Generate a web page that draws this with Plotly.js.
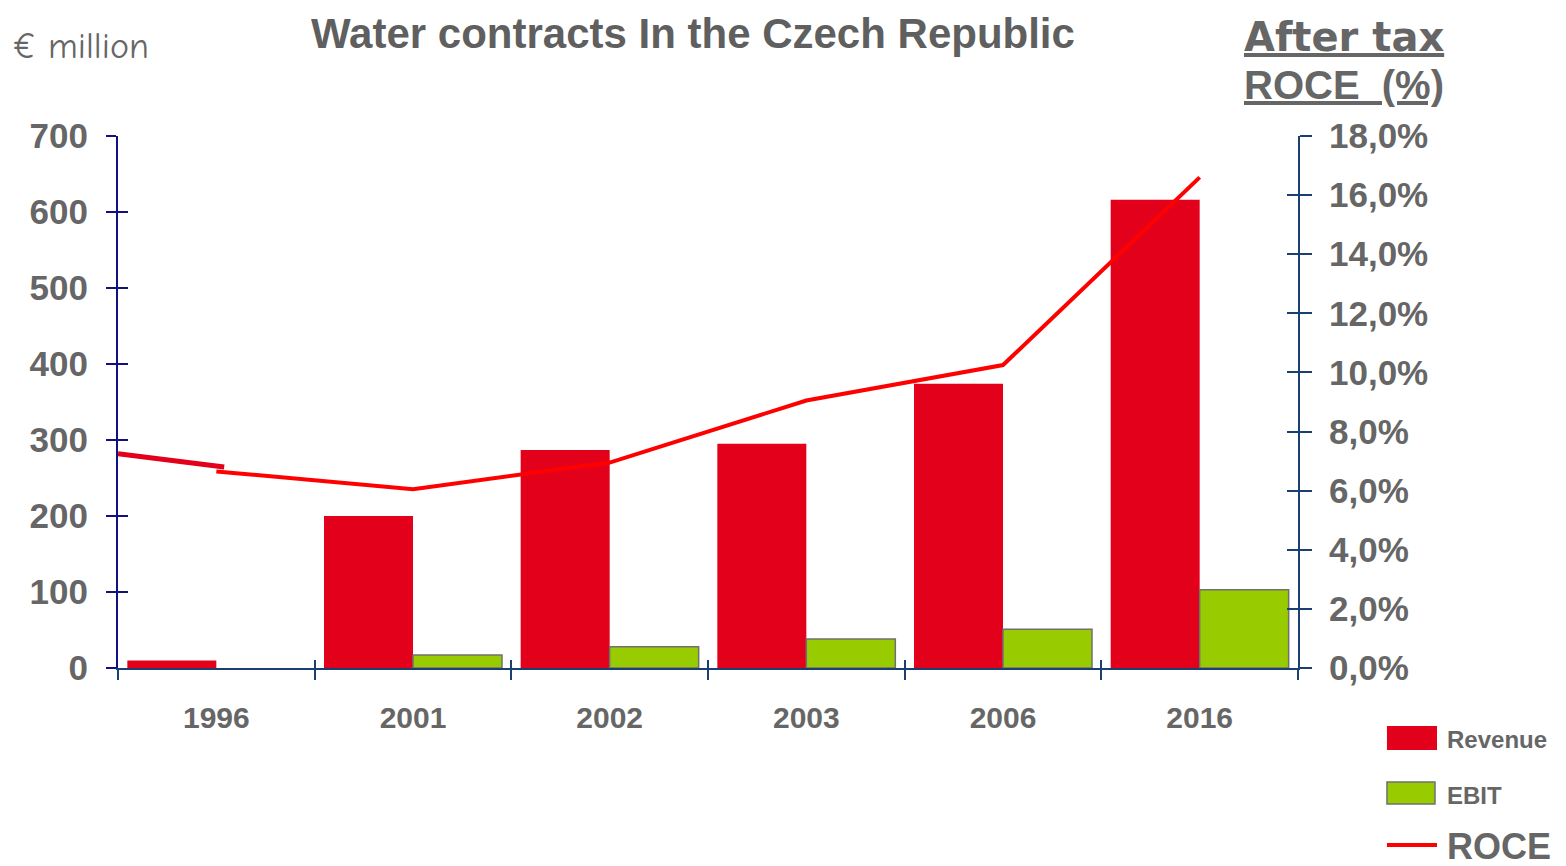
<!DOCTYPE html>
<html>
<head>
<meta charset="utf-8">
<script src="https://cdn.plot.ly/plotly-3.0.1.min.js"></script>
<style>
  html, body { margin: 0; padding: 0; background: #fff; }
  #plot { width: 1566px; height: 866px; }
</style>
</head>
<body>
<div id="plot"></div>
<script>
  // Data
  var years = ['1996', '2001', '2002', '2003', '2006', '2016'];
  var revenue = [10, 200, 287, 295, 374, 616];      // € million
  var ebit = [null, 17, 28, 38, 51, 103];           // € million
  var roce = [6.65, 6.05, 6.95, 9.05, 10.25, 16.6]; // after tax ROCE, %

  // short lead-in of the ROCE line, from the start of the axis up to 1996
  var roceLeadX = [-0.5, 0.04];
  var roceLeadY = [7.25, 6.8];

  var leftTicks = [0, 100, 200, 300, 400, 500, 600, 700];
  var rightTicks = [0, 2, 4, 6, 8, 10, 12, 14, 16, 18];
  var rightLabels = rightTicks.map(v => v.toFixed(1).replace('.', ',') + '%');

  var grey = '#666666';
  var navy = '#10107e';
  var blue = '#1b3f70';
  var tickFont = {family: 'Liberation Sans, Arial, sans-serif', size: 35, color: grey, weight: 'bold'};

  // Trace for revenue bars
  var trRevenue = {
    x: years,
    y: revenue,
    name: 'Revenue',
    type: 'bar',
    marker: {color: '#e2001a', line: {width: 0}},
    hoverinfo: 'skip'
  };
  // Trace for EBIT bars
  var trEbit = {
    x: years,
    y: ebit,
    name: 'EBIT',
    type: 'bar',
    marker: {color: '#99cc00', line: {color: '#707070', width: 1.5}},
    hoverinfo: 'skip'
  };
  // ROCE line on the right axis
  var trRoce = {
    x: years,
    y: roce,
    name: 'ROCE',
    type: 'scatter',
    mode: 'lines',
    yaxis: 'y2',
    line: {color: '#ff0000', width: 4},
    hoverinfo: 'skip'
  };
  var trRoceLead = {
    x: roceLeadX,
    y: roceLeadY,
    type: 'scatter',
    mode: 'lines',
    xaxis: 'x2',
    yaxis: 'y4',
    line: {color: '#e2001a', width: 5},
    hoverinfo: 'skip'
  };
  // empty trace so the inner-tick axis on the left gets drawn
  var trLeftTicks = {x: [], y: [], type: 'scatter', xaxis: 'x', yaxis: 'y3', hoverinfo: 'skip'};

  var data = [trRevenue, trEbit, trRoce, trRoceLead, trLeftTicks];

  // legend drawn by hand, bottom right
  var legendShapes = [
    {type: 'rect', xref: 'paper', yref: 'paper', x0: 1.0754, x1: 1.1178, y0: -0.109, y1: -0.154,
     fillcolor: '#e2001a', line: {width: 0}},
    {type: 'rect', xref: 'paper', yref: 'paper', x0: 1.0754, x1: 1.1161, y0: -0.2143, y1: -0.2556,
     fillcolor: '#99cc00', line: {color: '#707070', width: 1.5}},
    {type: 'line', xref: 'paper', yref: 'paper', x0: 1.0754, x1: 1.1178, y0: -0.3327, y1: -0.3327,
     line: {color: '#ff0000', width: 4}}
  ];

  var legendText = [
    {text: '<b>Revenue</b>', x: 1.1246, y: -0.1353, size: 24},
    {text: '<b>EBIT</b>', x: 1.1246, y: -0.2406, size: 24},
    {text: '<b>ROCE</b>', x: 1.1246, y: -0.3346, size: 36}
  ].map(t => ({
    text: t.text, x: t.x, y: t.y, xref: 'paper', yref: 'paper',
    xanchor: 'left', yanchor: 'middle', showarrow: false,
    font: {family: 'Liberation Sans, Arial, sans-serif', size: t.size, color: grey}
  }));

  var layout = {
    width: 1566,
    height: 866,
    paper_bgcolor: '#ffffff',
    plot_bgcolor: '#ffffff',
    margin: {l: 118, r: 268, t: 136, b: 198},
    showlegend: false,
    barmode: 'group',
    bargap: 0.095,
    bargroupgap: 0,
    title: {
      text: '<b>Water contracts In the Czech Republic</b>',
      x: 0.4425, xanchor: 'center', xref: 'container',
      y: 0.962, yanchor: 'middle', yref: 'container',
      font: {family: 'Liberation Sans, Arial, sans-serif', size: 42, color: '#5f5f5f'}
    },
    xaxis: {
      type: 'category',
      range: [-0.5, 5.5],
      showline: true, linecolor: blue, linewidth: 2,
      ticks: 'outside', tickson: 'boundaries', ticklen: 10, tickcolor: blue, tickwidth: 2,
      ticklabelstandoff: 22,
      tickfont: {family: 'Liberation Sans, Arial, sans-serif', size: 30, color: grey, weight: 'bold'},
      showgrid: false, zeroline: false, fixedrange: true
    },
    // linear twin of the category axis: inner half of the crossing ticks
    xaxis2: {
      overlaying: 'x', anchor: 'y', side: 'bottom',
      range: [-0.5, 5.5], tick0: -0.5, dtick: 1,
      ticks: 'inside', ticklen: 8, tickcolor: blue, tickwidth: 2,
      showticklabels: false, showline: false, showgrid: false, zeroline: false
    },
    yaxis: {
      range: [0, 700],
      tickvals: leftTicks,
      showline: true, linecolor: navy, linewidth: 2,
      ticks: 'outside', ticklen: 10, tickcolor: navy, tickwidth: 2,
      ticklabelstandoff: 11,
      tickfont: tickFont,
      showgrid: false, zeroline: false, fixedrange: true
    },
    yaxis3: {
      overlaying: 'y', anchor: 'x', side: 'left',
      range: [0, 700], tickvals: leftTicks,
      ticks: 'inside', ticklen: 10, tickcolor: navy, tickwidth: 2,
      showticklabels: false, showline: false, showgrid: false, zeroline: false
    },
    yaxis2: {
      overlaying: 'y', side: 'right', anchor: 'x',
      range: [0, 18],
      tickvals: rightTicks, ticktext: rightLabels,
      showline: true, linecolor: blue, linewidth: 2,
      ticks: 'outside', ticklen: 12, tickcolor: blue, tickwidth: 2,
      ticklabelstandoff: 10,
      tickfont: tickFont,
      showgrid: false, zeroline: false, fixedrange: true
    },
    yaxis4: {
      overlaying: 'y', anchor: 'x2', side: 'right',
      range: [0, 18], tickvals: rightTicks,
      ticks: 'inside', ticklen: 11, tickcolor: blue, tickwidth: 2,
      showticklabels: false, showline: false, showgrid: false, zeroline: false
    },
    shapes: legendShapes,
    annotations: [
      {
        text: '€ million', xref: 'paper', yref: 'paper', x: -0.0915, y: 1.169,
        xanchor: 'left', yanchor: 'middle', showarrow: false,
        font: {family: 'Comic Sans MS, Comic Neue, Lato, sans-serif', size: 36, color: grey}
      },
      {
        text: '<b><span style="text-decoration:underline">After tax</span></b>',
        xref: 'paper', yref: 'paper', x: 0.9525, y: 1.186,
        xanchor: 'left', yanchor: 'middle', showarrow: false,
        font: {family: 'Comic Sans MS, DejaVu Sans, sans-serif', size: 40, color: grey}
      },
      {
        text: '<b><span style="text-decoration:underline">ROCE  (%)</span></b>',
        xref: 'paper', yref: 'paper', x: 0.9525, y: 1.096,
        xanchor: 'left', yanchor: 'middle', showarrow: false,
        font: {family: 'Liberation Sans, Arial, sans-serif', size: 40, color: grey}
      }
    ].concat(legendText)
  };

  Plotly.newPlot('plot', data, layout, {displayModeBar: false, staticPlot: true});
</script>
</body>
</html>
